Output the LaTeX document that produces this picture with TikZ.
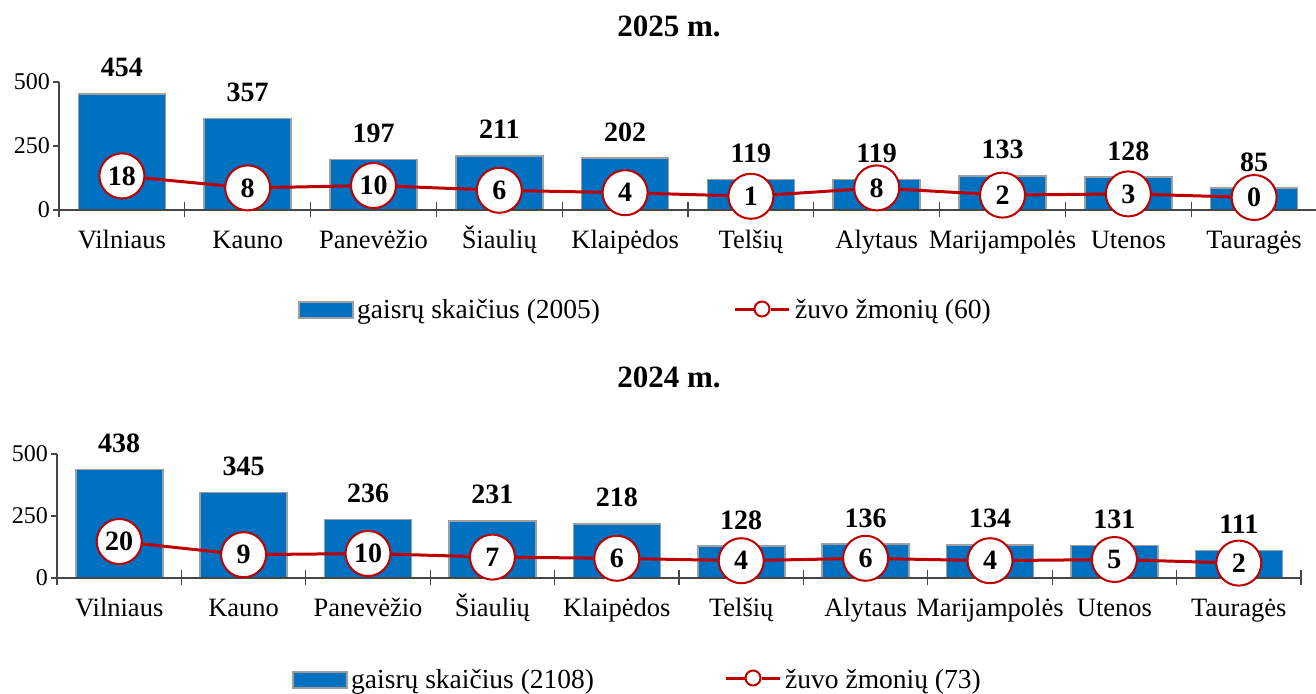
\documentclass[tikz,border=0pt]{standalone}
\usepackage{fontspec}
\setmainfont{Liberation Serif}
\definecolor{barblue}{RGB}{0,112,192}
\definecolor{linered}{RGB}{192,0,0}
\definecolor{axisgray}{RGB}{70,70,70}
\tikzset{
  bar/.style={fill=barblue, draw=gray!75, line width=1.6pt},
  axisline/.style={draw=axisgray, line width=1.2pt},
  redline/.style={draw=linered, line width=3pt},
  marker/.style={circle, fill=white, draw=linered, line width=2pt, minimum size=45pt, inner sep=0pt, font=\fontsize{28}{30}\selectfont\bfseries},
  legmarker/.style={circle, fill=white, draw=linered, line width=2pt, minimum size=15pt, inner sep=0pt},
  valtext/.style={inner sep=0pt, anchor=base, font=\fontsize{28}{30}\selectfont\bfseries},
  cattext/.style={inner sep=0pt, anchor=base, font=\fontsize{26.5}{30}\selectfont},
  ticktext/.style={inner sep=0pt, anchor=east, font=\fontsize{24}{26}\selectfont},
  titletext/.style={inner sep=0pt, anchor=base, font=\fontsize{31}{34}\selectfont\bfseries},
  legtext/.style={inner sep=0pt, anchor=base west, font=\fontsize{27.5}{30}\selectfont},
  legbar/.style={fill=barblue, draw=gray!75, line width=1.6pt}
}
% #1 prefix, #2 x0, #3 category width, #4 zero y, #5 px per unit, #6 data, #7 axis right end
\newcommand\drawchart[7]{%
  \pgfmathsetmacro\yfive{#4-500*#5}
  \pgfmathsetmacro\ytwo{#4-250*#5}
  \foreach \i/\n/\v/\d in {#6} {
    \pgfmathsetmacro\cx{#2+(\i-0.5)*#3}
    \pgfmathsetmacro\tp{#4-\v*#5}
    \draw[bar] (\cx-43.5,#4) rectangle (\cx+43.5,\tp);
    \node[valtext] (#1v\i) at (\cx,\tp-17) {\v};
    \node[cattext] (#1c\i) at (\cx,#4+38) {\n};
  }
  \draw[axisline] (#2,\yfive) -- (#2,#4+7);
  \draw[axisline] (#2-6,\yfive) -- (#2,\yfive);
  \draw[axisline] (#2-6,\ytwo) -- (#2,\ytwo);
  \draw[axisline] (#2-6,#4) -- (#7,#4);
  \node[ticktext] (#1t500) at (#2-9,\yfive) {500};
  \node[ticktext] (#1t250) at (#2-9,\ytwo) {250};
  \node[ticktext] (#1t0) at (#2-9,#4) {0};
  \foreach \k in {1,...,10} {
    \draw[axisline] (#2+\k*#3,#4-8) -- (#2+\k*#3,#4+7);
  }
  \foreach \i/\n/\v/\d in {#6} {
    \pgfmathsetmacro\cx{#2+(\i-0.5)*#3}
    \pgfmathsetmacro\my{#4-12.5-1.2*\d}
    \node[marker] (#1m\i) at (\cx,\my) {\d};
  }
  \foreach \i [evaluate=\i as \j using int(\i+1)] in {1,...,9} {
    \draw[redline] (#1m\i) -- (#1m\j);
  }
}
\begin{document}
\begin{tikzpicture}[x=1pt,y=-1pt]
\useasboundingbox (0,0) rectangle (1316,693);
\fill[white] (0,0) rectangle (1316,693);

% ---- 2025 ----
\node[titletext] (title1) at (669,37) {2025 m.};
\drawchart{a}{59}{125.8}{210}{0.256}{1/Vilniaus/454/18, 2/Kauno/357/8, 3/Panevėžio/197/10, 4/Šiaulių/211/6, 5/Klaipėdos/202/4, 6/Telšių/119/1, 7/Alytaus/119/8, 8/Marijampolės/133/2, 9/Utenos/128/3, 10/Tauragės/85/0}{1316}

\node[legbar, minimum width=54pt, minimum height=16pt, inner sep=0pt] (alb) at (326,310) {};
\node[legtext] (alt1) at (357,318) {gaisrų skaičius (2005)};
\coordinate (all) at (735,309);
\coordinate (alr) at (789,309);
\node[legmarker] (alm) at (762,309) {};
\draw[redline] (all) -- (alm) -- (alr);
\node[legtext] (alt2) at (795,318) {žuvo žmonių (60)};

% ---- 2024 ----
\node[titletext] (title2) at (669,387) {2024 m.};
\drawchart{b}{57}{124.4}{578}{0.248}{1/Vilniaus/438/20, 2/Kauno/345/9, 3/Panevėžio/236/10, 4/Šiaulių/231/7, 5/Klaipėdos/218/6, 6/Telšių/128/4, 7/Alytaus/136/6, 8/Marijampolės/134/4, 9/Utenos/131/5, 10/Tauragės/111/2}{1301}

\node[legbar, minimum width=54pt, minimum height=16pt, inner sep=0pt] (blb) at (320,680) {};
\node[legtext] (blt1) at (351,688) {gaisrų skaičius (2108)};
\coordinate (bll) at (726,678);
\coordinate (blr) at (780,678);
\node[legmarker] (blm) at (753,678) {};
\draw[redline] (bll) -- (blm) -- (blr);
\node[legtext] (blt2) at (785,688) {žuvo žmonių (73)};
\end{tikzpicture}
\end{document}
